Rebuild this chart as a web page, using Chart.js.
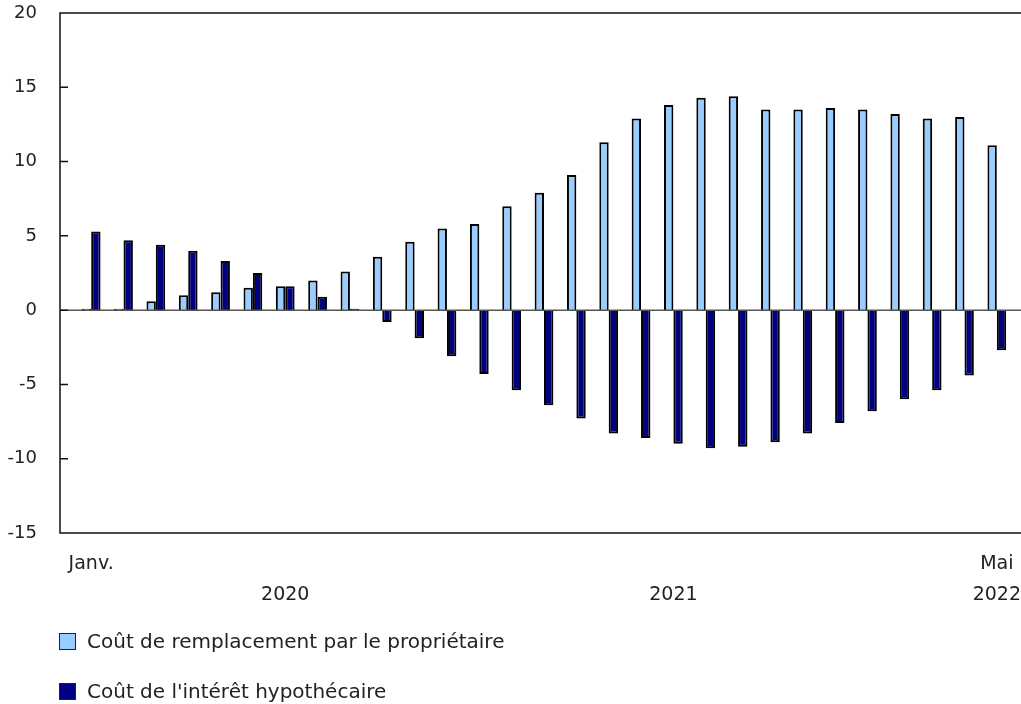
<!DOCTYPE html>
<html lang="fr">
<head>
<meta charset="utf-8">
<script src="https://cdn.jsdelivr.net/npm/chart.js@4/dist/chart.umd.min.js"></script>
<style>
    body { margin: 0; background: #fff; }
    #wrap { position: relative; width: 1021px; height: 704px; }
    #legend { position: absolute; left: 59px; top: 629px; font: 20px "DejaVu Sans", Verdana, sans-serif; color: #222; }
    .item { display: flex; align-items: center; height: 24px; margin-bottom: 26px; }
    .box { width: 15px; height: 15px; border: 1.5px solid #222; margin-right: 11px; }
</style>
</head>
<body>
<div id="wrap">
    <canvas id="chart" width="1021" height="704"></canvas>
    <div id="legend"></div>
</div>
<script>
// Indice des prix - coût de remplacement vs coût de l'intérêt hypothécaire

const months = [
    "Janv. 2020", "Févr. 2020", "Mars 2020", "Avr. 2020", "Mai 2020", "Juin 2020",
    "Juil. 2020", "Août 2020", "Sept. 2020", "Oct. 2020", "Nov. 2020", "Déc. 2020",
    "Janv. 2021", "Févr. 2021", "Mars 2021", "Avr. 2021", "Mai 2021", "Juin 2021",
    "Juil. 2021", "Août 2021", "Sept. 2021", "Oct. 2021", "Nov. 2021", "Déc. 2021",
    "Janv. 2022", "Févr. 2022", "Mars 2022", "Avr. 2022", "Mai 2022"
];

const replacementCost = [
    0.1, 0.1, 0.6, 1.0, 1.2, 1.5, 1.6, 2.0, 2.6, 3.6,
    4.6, 5.5, 5.8, 7.0, 7.9, 9.1, 11.3, 12.9, 13.8, 14.3,
    14.4, 13.5, 13.5, 13.6, 13.5, 13.2, 12.9, 13.0, 11.1
];

const mortgageInterest = [
    5.3, 4.7, 4.4, 4.0, 3.3, 2.5, 1.6, 0.9, 0.1, -0.8,
    -1.9, -3.1, -4.3, -5.4, -6.4, -7.3, -8.3, -8.6, -9.0, -9.3,
    -9.2, -8.9, -8.3, -7.6, -6.8, -6.0, -5.4, -4.4, -2.7
];

const seriesNames = ["Coût de remplacement par le propriétaire", "Coût de l'intérêt hypothécaire"];
const seriesColors = ["#99CCFF", "#000080"];

// tick labels: index -> [month line, year line]
const tickLabels = {
    0: ["Janv.", ""],
    6: ["", "2020"],
    18: ["", "2021"],
    28: ["Mai", "2022"]
};

const fontFamily = "'DejaVu Sans', Verdana, sans-serif";

// frame: left, top and bottom lines + inner ticks + zero line
const framePlugin = {
    id: "frame",
    afterDatasetsDraw(chart) {
        const ctx = chart.ctx;
        const area = chart.chartArea;
        const y = chart.scales.y;
        const left = 60, right = 1021;
        ctx.save();
        ctx.strokeStyle = "#555";
        ctx.lineWidth = 1.5;
        ctx.beginPath();
        ctx.moveTo(left, y.getPixelForValue(0));
        ctx.lineTo(right, y.getPixelForValue(0));
        ctx.stroke();
        ctx.strokeStyle = "#111";
        ctx.lineWidth = 1.5;
        ctx.beginPath();
        ctx.moveTo(right, area.top);
        ctx.lineTo(left, area.top);
        ctx.lineTo(left, area.bottom);
        ctx.lineTo(right, area.bottom);
        y.ticks.forEach((t) => {
            const py = y.getPixelForValue(t.value);
            ctx.moveTo(left, py);
            ctx.lineTo(left + 8, py);
        });
        ctx.stroke();
        ctx.restore();
    }
};

new Chart(document.getElementById("chart"), {
    type: "bar",
    data: {
        labels: months,
        datasets: [
            {
                label: seriesNames[0],
                data: replacementCost,
                backgroundColor: seriesColors[0],
                borderColor: "#000",
                borderWidth: 2,
                barPercentage: 1.0,
                categoryPercentage: 0.58
            },
            {
                label: seriesNames[1],
                data: mortgageInterest,
                backgroundColor: seriesColors[1],
                borderColor: "#000",
                borderWidth: 2,
                barPercentage: 1.0,
                categoryPercentage: 0.58
            }
        ]
    },
    options: {
        responsive: false,
        animation: false,
        layout: { padding: { top: 13, right: 8, left: 0, bottom: 81 } },
        plugins: {
            legend: { display: false },
            tooltip: { enabled: false }
        },
        scales: {
            x: {
                offset: true,
                grid: { display: false, drawTicks: false },
                border: { display: false },
                afterFit(scale) {
                    scale.height = 90;
                    scale.paddingLeft = 0;
                    scale.paddingRight = 0;
                },
                ticks: {
                    autoSkip: false,
                    maxRotation: 0,
                    padding: 16,
                    color: "#222",
                    font: { family: fontFamily, size: 19, lineHeight: 31 / 19 },
                    callback: (value, index) => tickLabels[index] || ""
                }
            },
            y: {
                min: -15,
                max: 20,
                grid: { display: false, drawTicks: false },
                border: { display: false },
                afterFit(scale) {
                    scale.width = 75;
                    scale.paddingTop = 0;
                    scale.paddingBottom = 0;
                },
                ticks: {
                    stepSize: 5,
                    padding: 38,
                    color: "#222",
                    font: { family: fontFamily, size: 18 }
                }
            }
        }
    },
    plugins: [framePlugin]
});

// Legend
const legend = document.getElementById("legend");
seriesNames.forEach((name, i) => {
    const item = document.createElement("div");
    item.className = "item";
    const box = document.createElement("span");
    box.className = "box";
    box.style.background = seriesColors[i];
    const text = document.createElement("span");
    text.textContent = name;
    item.appendChild(box);
    item.appendChild(text);
    legend.appendChild(item);
});
</script>
</body>
</html>
